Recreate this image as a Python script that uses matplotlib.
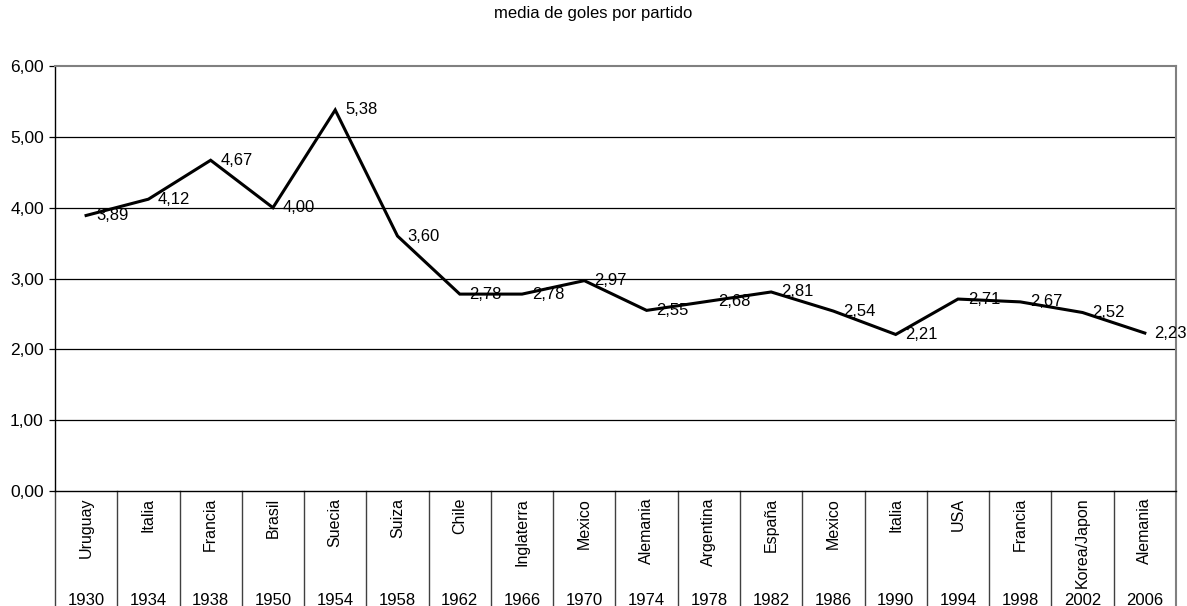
import matplotlib
matplotlib.use("Agg")
import matplotlib.pyplot as plt
import matplotlib.transforms as mtrans

plt.rcParams['font.family'] = ['Liberation Sans', 'DejaVu Sans']

# data
years = ["1930", "1934", "1938", "1950", "1954", "1958", "1962", "1966", "1970",
         "1974", "1978", "1982", "1986", "1990", "1994", "1998", "2002", "2006"]
hosts = ["Uruguay", "Italia", "Francia", "Brasil", "Suecia", "Suiza", "Chile",
         "Inglaterra", "Mexico", "Alemania", "Argentina", "España", "Mexico",
         "Italia", "USA", "Francia", "Korea/Japon", "Alemania"]
goals = [3.89, 4.12, 4.67, 4.00, 5.38, 3.60, 2.78, 2.78, 2.97,
         2.55, 2.68, 2.81, 2.54, 2.21, 2.71, 2.67, 2.52, 2.23]
yticks = [0, 1, 2, 3, 4, 5, 6]

fig = plt.figure(figsize=(11.87, 6.06), dpi=100)
ax = fig.add_axes([0.0463, 0.1898, 0.9444, 0.7012])

n = len(goals)
x = list(range(n))

# grid lines
for t in yticks[1:-1]:
    ax.axhline(t, color='black', lw=0.9, zorder=1)

ax.plot(x, goals, color='black', lw=2.2, zorder=3, solid_joinstyle='miter')

for xi, v in zip(x, goals):
    ax.annotate(f"{v:.2f}".replace('.', ','), (xi, v), xytext=(7, 0),
                textcoords='offset points', ha='left', va='center',
                fontsize=12, zorder=4)

ax.set_xlim(-0.5, n - 0.5)
ax.set_ylim(0, 6)
ax.set_yticks(yticks)
ax.set_yticklabels([f"{t:.2f}".replace('.', ',') for t in yticks], fontsize=12.5)
ax.tick_params(axis='y', length=4, width=0.9, pad=4, color='black')
ax.set_xticks([])

for side in ['top', 'right']:
    ax.spines[side].set_color('#808080')
    ax.spines[side].set_linewidth(1.5)
ax.spines['left'].set_linewidth(1.0)
ax.spines['bottom'].set_linewidth(1.0)

# multi-level category axis
trans = mtrans.blended_transform_factory(ax.transData, ax.transAxes)
for b in range(n + 1):
    xb = b - 0.5
    col = '#808080' if b == n else '#404040'
    ax.plot([xb, xb], [0, -0.3], color=col, lw=1.0 if b < n else 1.5,
            transform=trans, clip_on=False)

for xi, h, yr in zip(x, hosts, years):
    ax.text(xi, -0.016, h, rotation=90, ha='center', va='top',
            fontsize=11.5, transform=trans)
    ax.text(xi, -0.258, yr, ha='center', va='center',
            fontsize=12, transform=trans)

fig.text(0.5, 0.977, "media de goles por partido", ha='center', va='center',
         fontsize=12)

fig.savefig("out.png", dpi=100)
